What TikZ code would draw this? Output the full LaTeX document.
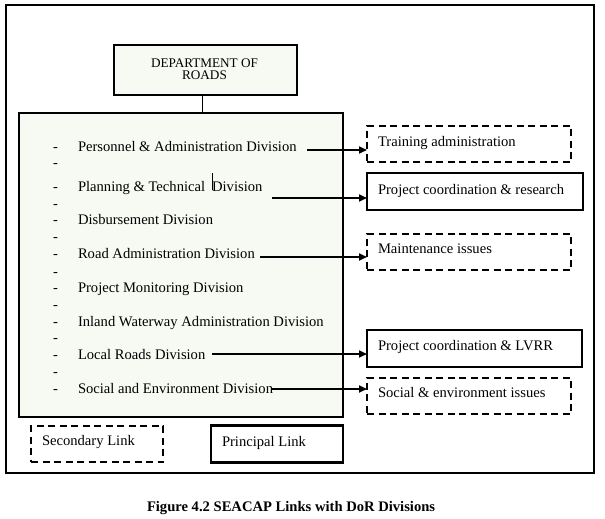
\documentclass[tikz,border=0pt]{standalone}
\usepackage{fontspec}
\setmainfont{Liberation Serif}
\usetikzlibrary{arrows.meta}
\definecolor{boxfill}{RGB}{247,249,243}
\begin{document}
\begin{tikzpicture}[x=1pt,y=-1pt,
  every node/.style={inner sep=0pt, outer sep=0pt},
  txt/.style={anchor=base west, font=\fontsize{14.6}{17}\selectfont},
  dsh/.style={anchor=base west, font=\fontsize{14.6}{17}\selectfont},
  thickbox/.style={draw, line width=2.6pt},
  solidlink/.style={draw, line width=2.6pt, minimum width=#1, minimum height=37pt},
  dashlink/.style={draw, line width=1.8pt, dash pattern=on 7pt off 4.5pt, minimum width=#1, minimum height=36pt},
  arr/.style={line width=1.7pt, -{Triangle[length=8pt,width=7pt]}}
]
\useasboundingbox (0,0) rectangle (605,519);
% outer frame
\draw[line width=2.6pt] (6,5) rectangle (594,473);

% department box
\node[thickbox, fill=boxfill, minimum width=183pt, minimum height=50pt] (dor) at (205.5,70) {};
\node[anchor=base, font=\fontsize{13.2}{13.5}\selectfont] (dort1) at (204.5,67) {DEPARTMENT OF};
\node[anchor=base, font=\fontsize{13.2}{13.5}\selectfont] (dort2) at (204.5,80) {ROADS};

% main box
\node[thickbox, fill=boxfill, minimum width=324pt, minimum height=304pt] (main) at (181,265) {};
\coordinate (cx) at (202,0);
\draw[line width=0.8pt] (dor.south -| cx) -- (main.north -| cx);

% divisions
\node[txt] (d1) at (78,151) {Personnel \& Administration Division};
\node[txt] (d2) at (78,191) {Planning \& Technical\hspace{7pt}Division};
\node[txt] (d3) at (78,224) {Disbursement Division};
\node[txt] (d4) at (78,258) {Road Administration Division};
\node[txt] (d5) at (78,292) {Project Monitoring Division};
\node[txt] (d6) at (78,326) {Inland Waterway Administration Division};
\node[txt] (d7) at (78,359) {Local Roads Division};
\node[txt] (d8) at (78,393) {Social and Environment Division};
\draw[line width=0.7pt] (212,173) -- (212,190);

\foreach \yy [count=\i] in {151,167,191,208,224,241,258,276,292,309,326,342,359,376,393}
  \node[dsh] (m\i) at (53,\yy) {-};

% link boxes
\node[dashlink=204pt] (tr) at (469,144) {};
\node[txt] (trt) at (378,146) {Training administration};
\node[solidlink=216pt] (pcr) at (475,191.5) {};
\node[txt] (pcrt) at (378,194) {Project coordination \& research};
\node[dashlink=204pt] (mi) at (469,252) {};
\node[txt] (mit) at (378,253) {Maintenance issues};
\node[solidlink=215pt] (pcl) at (474.5,348.5) {};
\node[txt] (pclt) at (378,350) {Project coordination \& LVRR};
\node[dashlink=204pt] (se) at (469,396) {};
\node[txt] (set) at (378,397) {Social \& environment issues};

% arrows
\coordinate (a1) at (307,150);
\coordinate (a2) at (272,198);
\coordinate (a3) at (260,257);
\coordinate (a4) at (212,354);
\coordinate (a5) at (272,389);
\draw[arr] (a1) -- (a1 -| tr.west);
\draw[arr] (a2) -- (a2 -| pcr.west);
\draw[arr] (a3) -- (a3 -| mi.west);
\draw[arr] (a4) -- (a4 -| pcl.west);
\draw[arr] (a5) -- (a5 -| se.west);

% legend
\node[dashlink=132pt] (sec) at (97,444) {};
\node[txt] (sect) at (42,445) {Secondary Link};
\node[solidlink=132pt] (pri) at (277,444) {};
\node[txt] (prit) at (222,446) {Principal Link};

% caption
\node[anchor=base west, font=\bfseries\fontsize{14.6}{17}\selectfont] (cap) at (147,511) {Figure 4.2 SEACAP Links with DoR Divisions};
\end{tikzpicture}
\end{document}
